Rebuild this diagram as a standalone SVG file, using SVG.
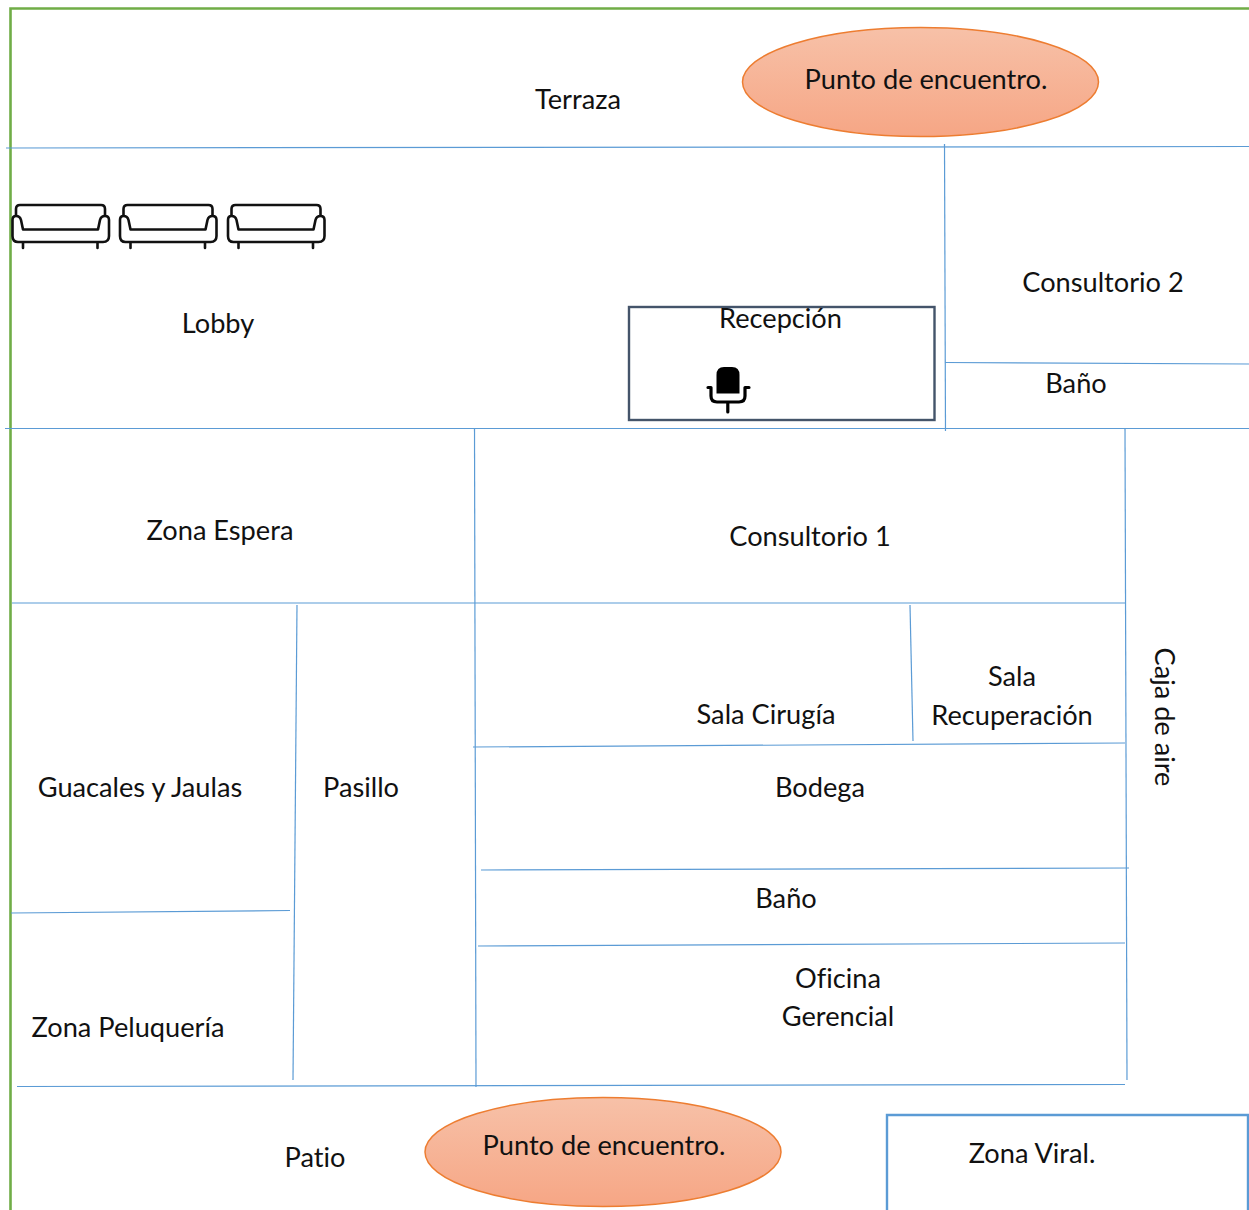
<svg xmlns="http://www.w3.org/2000/svg" width="1249" height="1210" viewBox="0 0 1249 1210">
<style>
text{font-family:Lato,"Open Sans","Liberation Sans",sans-serif;font-size:27.2px;fill:#111;text-anchor:middle;font-variant-ligatures:none}
.w{fill:none;stroke:#5b9bd5;stroke-width:1.2}
.e{fill:url(#o);stroke:#ed7d31;stroke-width:1.5}
.s{fill:none;stroke:#111;stroke-width:2.600;stroke-linejoin:round;stroke-linecap:round}
.c{fill:none;stroke:#000;stroke-width:3.200;stroke-linejoin:round;stroke-linecap:round}
</style>
<defs>
<linearGradient id="o" x1="0" y1="0" x2="0" y2="1"><stop offset="0" stop-color="#f7c1a8"/><stop offset="1" stop-color="#f6a685"/></linearGradient>
<g id="sofa">
<path class="s" d="M4 15V9Q4 5 8 5H89Q93 5 93 9V15"/>
<path class="s" d="M0.500 36V20Q0.500 16 4 16Q8 16 9 20L11 29.500H86L88 20Q89 16 93 16Q97 16 97 20V36Q97 42 91 42H6Q0.500 42 0.500 36Z"/>
<path class="s" d="M11 43V48M85.500 43V48"/>
</g>
</defs>
<rect width="1249" height="1210" fill="#fff"/>
<g id="frame"><path d="M10.500 1210V8.500H1249" fill="none" stroke="#70ad47" stroke-width="2.600"/></g>
<g id="connectors">
<path class="w" d="M6 148L1249 146.500"/>
<path class="w" d="M5 428.500H1249"/>
<path class="w" d="M944.500 144L945.500 431"/>
<path class="w" d="M945 362.500L1249 364"/>
<path class="w" d="M474.500 428L476 1087"/>
<path class="w" d="M1125 428L1127 1080"/>
<path class="w" d="M12 603H1125"/>
<path class="w" d="M297 605L293 1080"/>
<path class="w" d="M910 605L913 741"/>
<path class="w" d="M473 747L1125 743"/>
<path class="w" d="M481 870L1129 868"/>
<path class="w" d="M478 946L1125 943"/>
<path class="w" d="M11 913L290 910.500"/>
<path class="w" d="M17 1086.500L1125 1084.500"/>
</g>
<g id="terraza"><text x="578" y="108.500">Terraza</text></g>
<g id="punto-1"><ellipse class="e" cx="920.500" cy="82" rx="178" ry="54.500"/><text x="926" y="88.500">Punto de encuentro.</text></g>
<g id="sofas"><use href="#sofa" x="12" y="200"/><use href="#sofa" x="119.500" y="200"/><use href="#sofa" x="227.500" y="200"/></g>
<g id="lobby"><text x="218" y="332.500">Lobby</text></g>
<g id="recepcion"><rect x="629" y="307" width="305.500" height="113" fill="#fff" stroke="#44546a" stroke-width="2.400"/><text x="780.500" y="327.500">Recepción</text>
<g id="silla"><path d="M716.500 393.500V375Q716.500 367 724 367H732Q739.500 367 739.500 375V393.500Z" fill="#000"/><path class="c" d="M708 387.500H711V396Q711 402 717 402H739Q745 402 745 396V387.500H749M727.800 402V412"/></g></g>
<g id="consultorio-2"><text x="1103" y="291.500">Consultorio 2</text></g>
<g id="bano-1"><text x="1076" y="392.500">Baño</text></g>
<g id="zona-espera"><text x="220" y="539.500">Zona Espera</text></g>
<g id="consultorio-1"><text x="810" y="545.500">Consultorio 1</text></g>
<g id="sala-cirugia"><text x="766" y="723.500">Sala Cirugía</text></g>
<g id="sala-recuperacion"><text x="1012" y="685.500">Sala</text><text x="1012" y="724.500">Recuperación</text></g>
<g id="caja-aire"><text transform="translate(1155 717) rotate(90)">Caja de aire</text></g>
<g id="guacales"><text x="140" y="796.500">Guacales y Jaulas</text></g>
<g id="pasillo"><text x="361" y="796.500">Pasillo</text></g>
<g id="bodega"><text x="820" y="796.500">Bodega</text></g>
<g id="bano-2"><text x="786" y="907.500">Baño</text></g>
<g id="oficina"><text x="838" y="987.500">Oficina</text><text x="838" y="1025.500">Gerencial</text></g>
<g id="peluqueria"><text x="128" y="1036.500">Zona Peluquería</text></g>
<g id="patio"><text x="315" y="1166.500">Patio</text></g>
<g id="punto-2"><ellipse class="e" cx="603" cy="1152" rx="178" ry="54.500"/><text x="604" y="1154.500">Punto de encuentro.</text></g>
<g id="zona-viral"><path d="M887 1210V1115H1248V1210" fill="none" stroke="#5b9bd5" stroke-width="2.400"/><text x="1032" y="1162.500">Zona Viral.</text></g>
</svg>
